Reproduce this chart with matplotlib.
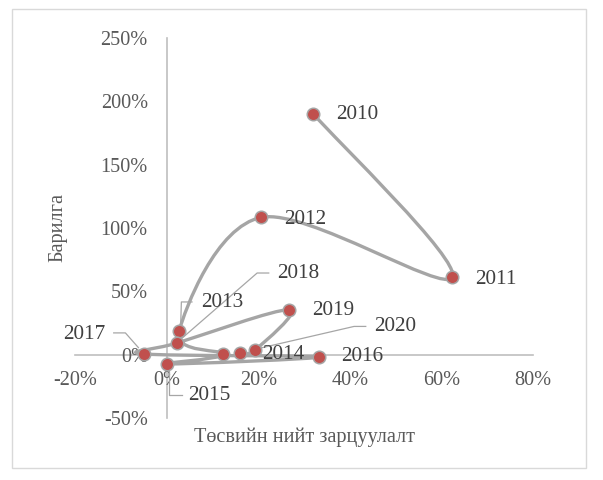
import numpy as np
import matplotlib
matplotlib.use("Agg")
import matplotlib.pyplot as plt
import matplotlib.transforms as mtransforms
from matplotlib.path import Path
from matplotlib.patches import PathPatch, Rectangle

# өгөгдөл (хувиар)
years = [2010, 2011, 2012, 2013, 2014, 2015, 2016, 2017, 2018, 2019, 2020, 2021]
spending = [32.0, 62.4, 20.7, 2.7, 12.4, 0.0, 33.3, -5.0, 2.3, 26.7, 19.4, 16.0]
construction = [190.3, 61.2, 108.4, 18.4, 0.3, -7.3, -1.8, 0.6, 9.2, 35.4, 3.9, 1.3]
x_ticks = [-20, 0, 20, 40, 60, 80]
y_ticks = [-50, 0, 50, 100, 150, 200, 250]
x_title = "Төсвийн нийт зарцуулалт"
y_title = "Барилга"

# шошгоны байрлал: (dx, dy пиксел, y доош), зэрэгцүүлэлт, хөтөч шугам
label_layout = {
    2010: (23, 1, "left", None),
    2011: (23, 2, "left", None),
    2012: (23, 2, "left", None),
    2013: (22, -29, "left", [(13, -29.4), (2.4, -29.4), (1.7, -6)]),
    2014: (39, 0.5, "left", None),
    2015: (22, 32, "left", [(2.3, 4), (2.3, 31), (15, 31)]),
    2016: (22, -0.5, "left", None),
    2017: (-38, -19.5, "right", [(-30, -21), (-18.3, -21), (-5.3, -6.3)]),
    2018: (100, -69.5, "left", [(91.6, -70), (80, -70), (4.3, -4.3)]),
    2019: (23, 0.5, "left", None),
    2020: (118.6, -23, "left", [(110.3, -23.3), (98.6, -23.3), (4.3, -1.5)]),
}

plt.rcParams["font.family"] = ["Liberation Serif", "DejaVu Serif"]
plt.rcParams["axes.unicode_minus"] = False

fig = plt.figure(figsize=(6.03, 4.8), dpi=100)
ax = fig.add_axes([75 / 603, 1 - 418 / 480, 458 / 603, 380 / 480])
ax.set_xlim(-20, 80)
ax.set_ylim(-50, 250)
ax.patch.set_visible(False)

# гөлгөр шугам (Excel маягийн Bezier)
pts = np.column_stack([spending, construction])
ext = np.vstack([pts[0], pts, pts[-1]])
verts = [pts[0]]
codes = [Path.MOVETO]
for i in range(len(pts) - 1):
    p0, p1, p2, p3 = ext[i], ext[i + 1], ext[i + 2], ext[i + 3]
    verts += [p1 + (p2 - p0) / 6, p2 - (p3 - p1) / 6, p2]
    codes += [Path.CURVE4] * 3
ax.add_patch(PathPatch(Path(verts, codes), facecolor="none", edgecolor="#A5A5A5",
                       lw=2.4, capstyle="round", joinstyle="round", zorder=3))
ax.plot(spending, construction, ls="none", marker="o", ms=9, mfc="#C0504D",
        mec="#A5A5A5", mew=1.1, zorder=4)


def px_trans(x, y):
    return mtransforms.Affine2D().scale(1, -1) + mtransforms.ScaledTranslation(x, y, ax.transData)


for yr, x, y in zip(years, spending, construction):
    if yr not in label_layout:
        continue
    dx, dy, ha, leader = label_layout[yr]
    tr = px_trans(x, y)
    ax.text(dx, dy, str(yr), transform=tr, ha=ha, va="center",
            fontsize=15.3, color="#404040", zorder=5)
    if leader:
        lx, ly = zip(*leader)
        ax.plot(lx, ly, transform=tr, color="#A6A6A6", lw=0.9, clip_on=False, zorder=2)

ax.set_xlim(-20, 80)
ax.set_ylim(-50, 250)

for s in ["top", "right"]:
    ax.spines[s].set_visible(False)
ax.spines["left"].set_position(("data", 0))
ax.spines["bottom"].set_position(("data", 0))
for s in ["left", "bottom"]:
    ax.spines[s].set_color("#BFBFBF")
    ax.spines[s].set_linewidth(1.2)
    ax.spines[s].set_zorder(1)

ax.set_xticks(x_ticks)
ax.set_xticklabels([f"{v}%" for v in x_ticks])
ax.set_yticks(y_ticks)
ax.set_yticklabels([f"{v}%" for v in y_ticks])
ax.tick_params(axis="x", length=0, pad=12, labelsize=14.6, labelcolor="#595959")
ax.tick_params(axis="y", length=0, pad=13.5, labelsize=14.6, labelcolor="#595959")

fig.text(304 / 603, 1 - 437 / 480, x_title, ha="center", va="center",
         fontsize=14.6, color="#595959")
fig.text(58 / 603, 1 - 228 / 480, y_title, ha="center", va="center",
         rotation=90, fontsize=14.6, color="#595959")

fig.patches.append(Rectangle((12 / 603, 1 - 468 / 480), 574 / 603, 459 / 480,
                             transform=fig.transFigure, fill=False,
                             edgecolor="#D9D9D9", lw=1))

fig.savefig("out.png", dpi=100)
